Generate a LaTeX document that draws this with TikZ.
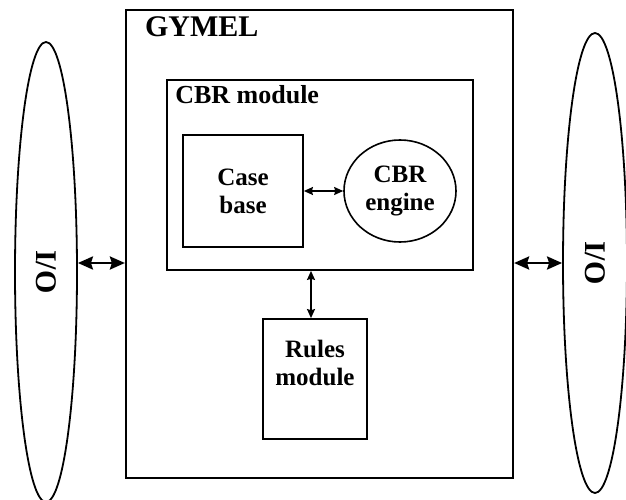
\documentclass[tikz,border=0pt]{standalone}
\usepackage{fontspec}
\setmainfont{Liberation Serif}
\usetikzlibrary{arrows.meta,shapes.geometric}

\tikzset{
  box/.style={draw, line width=1.8pt, inner sep=0pt},
  txt/.style={font=\bfseries\fontsize{25}{28}\selectfont, align=center, inner sep=0pt},
  iofont/.style={font=\bfseries\fontsize{30}{34}\selectfont, rotate=-90, inner sep=0pt},
  bigarrow/.style={line width=2.6pt, {Stealth[length=15pt,width=13pt,inset=2pt]}-{Stealth[length=15pt,width=13pt,inset=2pt]}},
  smallarrow/.style={line width=1.4pt, {Stealth[length=9pt,width=8pt,inset=1pt]}-{Stealth[length=9pt,width=8pt,inset=1pt]}}
}

\begin{document}
\begin{tikzpicture}[x=1pt,y=-1pt]

\useasboundingbox (0,0) rectangle (626,500);

% outer system and the two I/O ellipses
\node[box, line width=2.2pt, minimum width=387pt, minimum height=468pt] (gymel) at (319.5,244) {};
\node[draw, ellipse, line width=1.8pt, minimum width=62pt, minimum height=460pt] (iol) at (46,272) {};
\node[draw, ellipse, line width=1.8pt, minimum width=64pt, minimum height=460pt] (ior) at (595,263) {};

\node[iofont] (iotl) at (iol) {I/O};
\node[iofont] (iotr) at (ior) {I/O};

\node[anchor=base west, font=\bfseries\fontsize{30}{34}\selectfont, inner sep=0pt] (gymeltitle)
  at ([shift={(20,28)}]gymel.north west) {GYMEL};

% CBR module
\node[box, minimum width=306pt, minimum height=190pt] (cbr) at (320,175) {};
\node[anchor=base west, txt, font=\bfseries\fontsize{26}{30}\selectfont] (cbrtitle)
  at ([shift={(9,24)}]cbr.north west) {CBR module};

\node[box, minimum width=120pt, minimum height=112pt, txt] (case) at (243,191) {Case\\base};
\node[draw, ellipse, line width=1.6pt, minimum width=112pt, minimum height=102pt, txt] (engine) at (400,191) {CBR\\engine};

% rules module
\node[box, minimum width=104pt, minimum height=120pt] (rules) at (315,379) {};
\node[txt] (rulestxt) at ([yshift=-45pt]rules.north) {Rules\\module};

% connectors
\coordinate (ioy) at (0,263);
\draw[bigarrow] (iol.east |- ioy) -- (gymel.west |- ioy);
\draw[bigarrow] (gymel.east |- ioy) -- (ior.west |- ioy);

\draw[smallarrow] (case.east) -- (engine.west);
\coordinate (rulesx) at (311,0);
\draw[smallarrow] (rulesx |- cbr.south) -- (rulesx |- rules.north);

\end{tikzpicture}
\end{document}
